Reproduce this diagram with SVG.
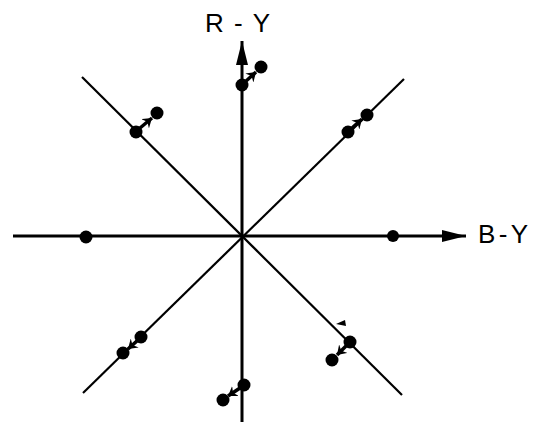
<svg xmlns="http://www.w3.org/2000/svg" width="534" height="426" viewBox="0 0 534 426">
<style>
.axis{stroke:#000;stroke-width:3;fill:none}
.diag{stroke:#000;stroke-width:2.2;fill:none}
.dot{fill:#000}
.move{stroke:#000;stroke-width:3.5;fill:none;marker-end:url(#small)}
.lbl{font-family:"Liberation Sans",Arial,sans-serif;font-size:26px;fill:#000}
</style>
<defs>
<marker id="big" markerWidth="26" markerHeight="14" refX="24" refY="7" orient="auto" markerUnits="userSpaceOnUse">
<path d="M0,1 L24,7 L0,13 Z" fill="#000"/>
</marker>
<marker id="small" markerWidth="12" markerHeight="12" refX="9" refY="6" orient="auto" markerUnits="userSpaceOnUse">
<path d="M0,0 L9,6 L0,12 L3,6 Z" fill="#000"/>
</marker>
</defs>
<g id="connectors">
<line class="axis" x1="13" y1="236" x2="466" y2="236" marker-end="url(#big)"/>
<line class="axis" x1="242" y1="422" x2="242" y2="41" marker-end="url(#big)"/>
<line class="diag" x1="82" y1="77" x2="402" y2="395"/>
<line class="diag" x1="404" y1="79" x2="83" y2="393"/>
</g>
<g id="label-ry"><text class="lbl" x="205" y="32" textLength="65" lengthAdjust="spacing">R-Y</text></g>
<g id="label-by"><text class="lbl" x="478" y="243" textLength="50" lengthAdjust="spacing">B-Y</text></g>
<g id="dot-left"><circle class="dot" cx="86" cy="237" r="6.5"/></g>
<g id="dot-right"><circle class="dot" cx="393" cy="236" r="6"/></g>
<g id="pair-top">
<circle class="dot" cx="242" cy="85" r="6.5"/>
<circle class="dot" cx="261" cy="67" r="6.5"/>
<line class="move" x1="245" y1="82" x2="256" y2="72"/>
</g>
<g id="pair-upper-left">
<circle class="dot" cx="136" cy="132" r="6.5"/>
<circle class="dot" cx="157" cy="113" r="6.5"/>
<line class="move" x1="140" y1="128" x2="152" y2="118"/>
</g>
<g id="pair-upper-right">
<circle class="dot" cx="348" cy="132" r="6.5"/>
<circle class="dot" cx="367" cy="115" r="6.5"/>
<line class="move" x1="352" y1="128" x2="362" y2="119"/>
</g>
<g id="pair-lower-left">
<circle class="dot" cx="141" cy="337" r="6.5"/>
<circle class="dot" cx="123" cy="353" r="6.5"/>
<line class="move" x1="137" y1="341" x2="128" y2="349"/>
</g>
<g id="pair-lower-right">
<circle class="dot" cx="350" cy="342" r="6.5"/>
<circle class="dot" cx="332" cy="360" r="6.5"/>
<line class="move" x1="346" y1="346" x2="337" y2="355"/>
<path d="M336,324 L345,320 L346,326 Z" fill="#000"/>
</g>
<g id="pair-bottom">
<circle class="dot" cx="244" cy="385" r="6.5"/>
<circle class="dot" cx="223" cy="400" r="6.5"/>
<line class="move" x1="240" y1="388" x2="228" y2="396"/>
</g>
</svg>
